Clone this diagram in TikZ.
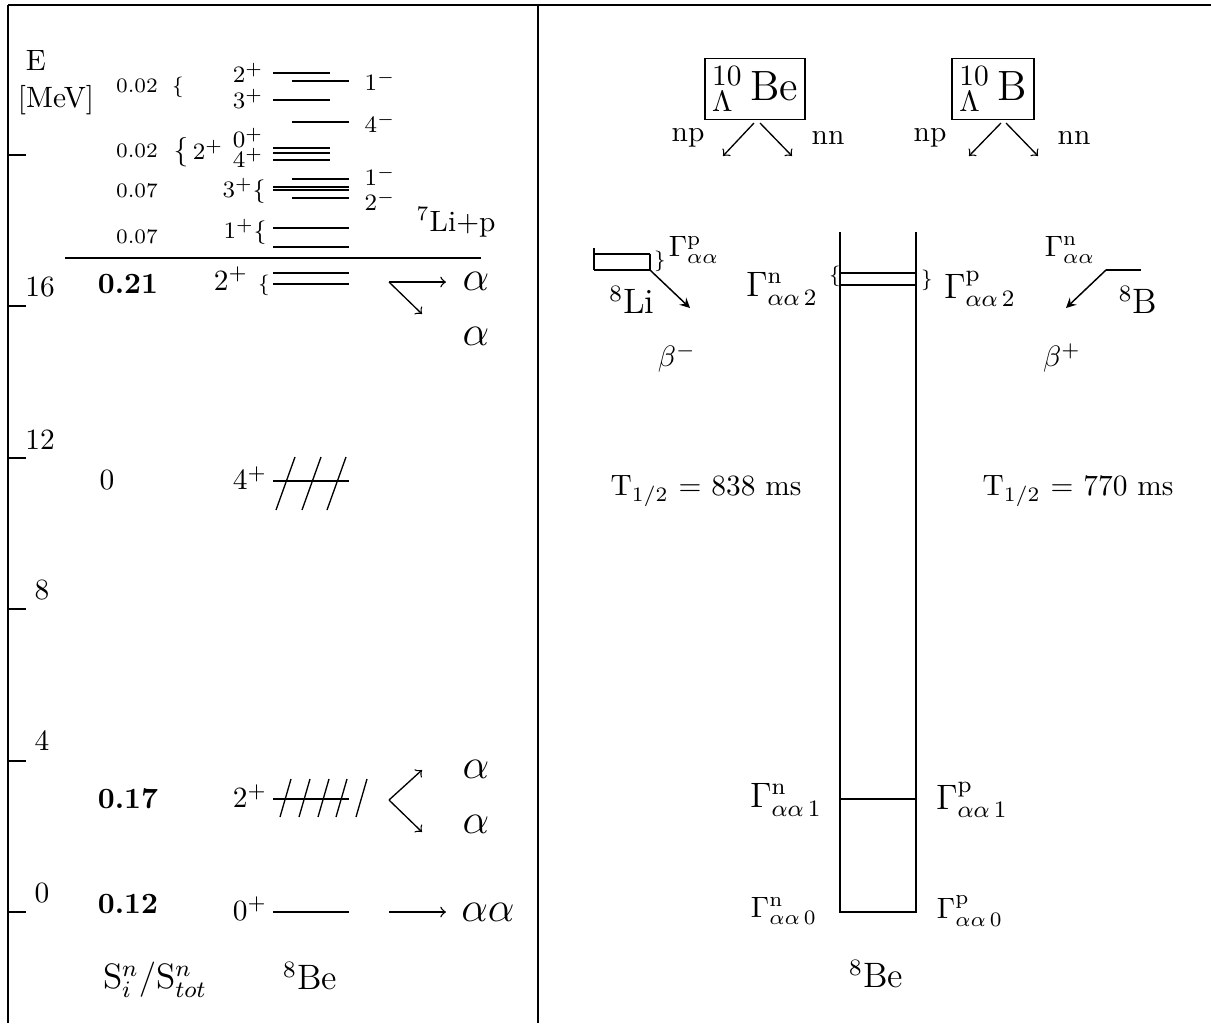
\documentclass[tikz,border=0pt]{standalone}
\usepackage{amsmath}
\begin{document}
\begin{tikzpicture}[x=0.34pt,y=-0.34pt,
  lvl/.style={line width=0.45pt},
  axtick/.style={line width=0.5pt},
  outline/.style={line width=0.8pt},
  arr/.style={->, line width=0.45pt},
  barr/.style={-stealth, line width=0.5pt},
  sm/.style={font=\scriptsize, inner sep=0pt},
  fn/.style={font=\footnotesize, inner sep=0pt},
  nm/.style={font=\normalsize, inner sep=0pt},
  lg/.style={font=\large, inner sep=0pt},
  Lg/.style={font=\Large, inner sep=0pt},
  hyp/.style={draw, line width=0.5pt, font=\Large, inner xsep=2.5pt, inner ysep=2.6pt},
]
\useasboundingbox (0,0) rectangle (1211,1023);

% ---------- table frame ----------
\draw[outline] (8,5) -- (1211,5);
\draw[outline] (8,5) -- (8,1023);
\draw[outline] (538,5) -- (538,1023);

% ---------- energy axis ----------
\foreach \yy in {155,306,458,609,761,912} \draw[axtick] (8,\yy) -- (26,\yy);
\node[nm] (lE)   at (36,60)  {E};
\node[nm] (lMeV) at (56,100) {[MeV]};
\node[nm] (t16) at (40,287) {16};
\node[nm] (t12) at (40,440) {12};
\node[nm] (t8)  at (42,590) {8};
\node[nm] (t4)  at (42,741) {4};
\node[nm] (t0)  at (42,893) {0};

% ---------- spectroscopic factors ----------
\node[sm] (s1) at (137,86)  {0.02};
\node[sm] (s2) at (137,151) {0.02};
\node[sm] (s3) at (137,191) {0.07};
\node[sm] (s4) at (137,237) {0.07};
\node[nm] (s5) at (128,284) {\textbf{0.21}};
\node[nm] (s6) at (107,480) {0};
\node[nm] (s7) at (128,799) {\textbf{0.17}};
\node[nm] (s8) at (128,904) {\textbf{0.12}};
\node[lg] (sh) at (155,980) {$\mathrm{S}_i^n/\mathrm{S}_{tot}^n$};

% ---------- 8Be levels, upper region ----------
\node[sm] (b1) at (178,87) {\{};
\node[fn] (j1) at (248,73)  {2$^+$};
\node[fn] (j2) at (248,99)  {3$^+$};
\node[fn] (j3) at (380,81)  {1$^-$};
\node[fn] (j4) at (380,123) {4$^-$};
\draw[lvl] (273,73) -- (330,73);
\draw[lvl] (292,81) -- (349,81);
\draw[lvl] (273,100) -- (330,100);
\draw[lvl] (292,122) -- (349,122);

\node[nm] (b2) at (181,152) {\{};
\node[fn] (j5) at (208,150) {2$^+$};
\node[fn] (j6) at (248,138) {0$^+$};
\node[fn] (j7) at (248,158) {4$^+$};
\draw[lvl] (273,148) -- (330,148);
\draw[lvl] (273,153) -- (330,153);
\draw[lvl] (273,160) -- (330,160);

\node[fn] (j8) at (244,191) {3$^+$\{};
\node[fn] (j9)  at (380,176) {1$^-$};
\node[fn] (j10) at (380,201) {2$^-$};
\draw[lvl] (292,179) -- (349,179);
\draw[lvl] (273,187) -- (349,187);
\draw[lvl] (273,190) -- (349,190);
\draw[lvl] (292,198) -- (349,198);

\node[fn] (j11) at (245,232) {1$^+$\{};
\draw[lvl] (273,228) -- (349,228);
\draw[lvl] (273,247) -- (349,247);

% 7Li+p threshold
\draw[lvl] (65,258) -- (481,258);
\node[nm] (thr) at (456,222) {$^7$Li+p};

% ---------- 2+ doublet near 16 MeV ----------
\node[nm] (j12) at (242,281) {2$^+$ {\scriptsize\{}};
\draw[lvl] (273,273) -- (349,273);
\draw[lvl] (273,284) -- (349,284);
\coordinate (d16) at (389,282);
\coordinate (d16a) at (446,282);
\coordinate (d16b) at (422,314);
\draw[arr] (d16) -- (d16a);
\draw[arr] (d16) -- (d16b);
\node[Lg] (al1) at (476,281) {$\alpha$};
\node[Lg] (al2) at (476,336) {$\alpha$};

% ---------- 4+ broad level ----------
\node[nm] (j13) at (250,478) {4$^+$};
\draw[lvl] (273,481) -- (349,481);
\foreach \xx in {276,302,327} \draw[lvl] (\xx,510) -- ++(19,-53);

% ---------- 2+ broad level ----------
\node[nm] (j14) at (250,796) {2$^+$};
\draw[lvl] (273,799) -- (349,799);
\foreach \xx in {280,299,318,336,356} \draw[lvl] (\xx,817) -- ++(11,-38);
\coordinate (d4) at (389,800);
\coordinate (d4a) at (422,770);
\coordinate (d4b) at (422,832);
\draw[arr] (d4) -- (d4a);
\draw[arr] (d4) -- (d4b);
\node[Lg] (al3) at (476,769) {$\alpha$};
\node[Lg] (al4) at (476,824) {$\alpha$};

% ---------- ground state ----------
\node[nm] (j15) at (250,909) {0$^+$};
\draw[lvl] (273,912) -- (349,912);
\coordinate (d0) at (389,912);
\coordinate (d0a) at (446,912);
\draw[arr] (d0) -- (d0a);
\node[Lg] (al5) at (488,912) {$\alpha\alpha$};

\node[lg] (be1) at (310,976) {$^8$Be};

% ================= right panel =================
\node[hyp] (hBe) at (755,89) {${}^{10}_{\Lambda}$\,Be};
\node[hyp] (hB)  at (993,89) {${}^{10}_{\Lambda}$\,B};

% weak decay channels of the hypernuclei
\coordinate (hBeL) at (754,123);
\coordinate (hBeR) at (760,123);
\coordinate (hBL) at (1001,123);
\coordinate (hBR) at (1006,123);
\coordinate (hBe1) at (723,156);
\coordinate (hBe2) at (792,156);
\coordinate (hB1) at (969,156);
\coordinate (hB2) at (1038,156);
\draw[arr] (hBeL) -- (hBe1);
\draw[arr] (hBeR) -- (hBe2);
\draw[arr] (hBL) -- (hB1);
\draw[arr] (hBR) -- (hB2);
\node[nm] (np1) at (688,138) {np};
\node[nm] (nn1) at (828,138) {nn};
\node[nm] (np2) at (930,138) {np};
\node[nm] (nn2) at (1074,138) {nn};

% 8Li feeding
\draw[lvl] (594,248) -- (594,270);
\draw[lvl] (594,254) -- (650,254);
\draw[lvl] (594,270) -- (650,270);
\draw[lvl] (650,254) -- (650,270);
\node[sm] (bLi) at (660,261) {\}};
\node[nm] (gLi) at (694,250) {$\Gamma^{\mathrm{p}}_{\alpha\alpha}$};
\node[lg] (Li8) at (632,300) {$^8$Li};
\coordinate (Litop) at (650,270);
\coordinate (Litip) at (690,308);
\draw[barr] (Litop) -- (Litip);
\node[nm] (bm) at (677,358) {$\beta^-$};

% 8B feeding
\draw[lvl] (1106,270) -- (1141,270);
\node[nm] (gB) at (1070,250) {$\Gamma^{\mathrm{n}}_{\alpha\alpha}$};
\node[lg] (B8) at (1138,300) {$^8$B};
\coordinate (Btop) at (1106,270);
\coordinate (Btip) at (1066,308);
\draw[barr] (Btop) -- (Btip);
\node[nm] (bp) at (1062,358) {$\beta^+$};

% half lives
\node[nm] (tLi) at (706,491) {T$_{1/2}$ = 838 ms};
\node[nm] (tB)  at (1078,491) {T$_{1/2}$ = 770 ms};

% 8Be column
\draw[lvl] (840,232) -- (840,912) -- (916,912) -- (916,232);
\draw[lvl] (840,273) -- (916,273);
\draw[lvl] (840,285) -- (916,285);
\draw[lvl] (840,799) -- (916,799);
\node[sm] (bl2) at (835,276) {\{};
\node[sm] (br2) at (927,280) {\}};
\node[lg] (gn2) at (782,289) {$\Gamma^{\mathrm{n}}_{\alpha\alpha\,2}$};
\node[lg] (gp2) at (980,289) {$\Gamma^{\mathrm{p}}_{\alpha\alpha\,2}$};
\node[lg] (gn1) at (786,800) {$\Gamma^{\mathrm{n}}_{\alpha\alpha\,1}$};
\node[lg] (gp1) at (972,800) {$\Gamma^{\mathrm{p}}_{\alpha\alpha\,1}$};
\node[nm] (gn0) at (784,911) {$\Gamma^{\mathrm{n}}_{\alpha\alpha\,0}$};
\node[nm] (gp0) at (970,911) {$\Gamma^{\mathrm{p}}_{\alpha\alpha\,0}$};
\node[lg] (be2) at (876,974) {$^8$Be};
\end{tikzpicture}
\end{document}
